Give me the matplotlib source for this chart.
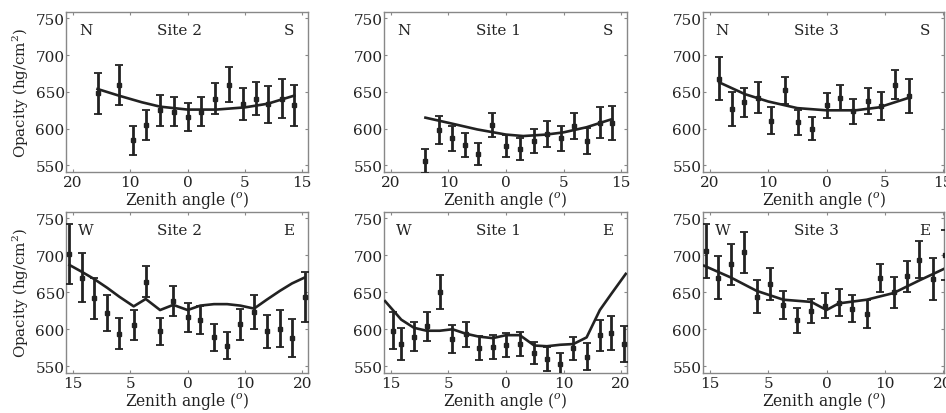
import numpy as np
import matplotlib
matplotlib.use('Agg')
import matplotlib.pyplot as plt

# ── Data (x in tick units: ticks at -2..2) ────────────────────────────────────
ns_ticks = ['20', '10', '0', '5', '15']
we_ticks = ['15', '5', '0', '10', '20']

# Site 2, N-S
s2ns_x = [-1.57, -1.19, -0.96, -0.73, -0.48, -0.24, 0.0, 0.23, 0.48, 0.72, 0.96, 1.19, 1.41, 1.65, 1.86]
s2ns_y = [648, 659, 584, 605, 625, 623, 616, 623, 641, 660, 634, 641, 633, 641, 632]
s2ns_e = [28, 27, 20, 20, 21, 20, 19, 20, 21, 24, 22, 23, 25, 26, 28]
s2ns_fx = [-1.57, -1.2, -0.8, -0.48, 0.0, 0.5, 1.0, 1.4, 1.65, 1.86]
s2ns_fy = [654, 645, 636, 630, 626, 626, 629, 634, 640, 645]

# Site 1, N-S
s1ns_x = [-1.40, -1.17, -0.94, -0.71, -0.48, -0.24, 0.0, 0.24, 0.48, 0.71, 0.95, 1.18, 1.41, 1.63, 1.84]
s1ns_y = [556, 598, 587, 578, 566, 605, 577, 572, 583, 593, 587, 604, 583, 608, 608]
s1ns_e = [16, 19, 17, 16, 15, 16, 15, 15, 16, 18, 17, 18, 18, 21, 23]
s1ns_fx = [-1.4, -1.0, -0.5, 0.0, 0.3, 0.7, 1.0, 1.4, 1.84]
s1ns_fy = [615, 608, 599, 592, 590, 592, 595, 602, 613]

# Site 3, N-S
s3ns_x = [-1.84, -1.63, -1.41, -1.18, -0.95, -0.72, -0.49, -0.25, 0.0, 0.23, 0.46, 0.71, 0.94, 1.18, 1.41]
s3ns_y = [668, 627, 636, 642, 611, 652, 609, 600, 632, 642, 624, 638, 631, 660, 644]
s3ns_e = [29, 23, 20, 21, 18, 19, 17, 16, 17, 17, 17, 18, 19, 20, 23]
s3ns_fx = [-1.84, -1.4, -1.0, -0.5, 0.0, 0.5, 0.9, 1.41]
s3ns_fy = [663, 647, 637, 628, 625, 625, 629, 642]

# Site 2, W-E
s2we_x = [-2.06, -1.85, -1.63, -1.40, -1.19, -0.94, -0.73, -0.48, -0.25, 0.0,
          0.22, 0.46, 0.69, 0.92, 1.16, 1.38, 1.61, 1.82, 2.04]
s2we_y = [702, 670, 642, 622, 594, 606, 664, 597, 638, 616, 612, 589, 578, 607, 624, 597, 601, 588, 644]
s2we_e = [41, 33, 28, 25, 21, 20, 21, 18, 20, 20, 19, 18, 18, 21, 23, 22, 25, 26, 34]
s2we_fx = [-2.06, -1.85, -1.63, -1.40, -1.19, -0.94, -0.73, -0.48, -0.25, 0.0,
           0.22, 0.46, 0.69, 0.92, 1.16, 1.38, 1.61, 1.82, 2.04]
s2we_fy = [687, 678, 668, 656, 644, 631, 641, 626, 633, 626, 632, 634, 634, 632, 628, 640, 652, 662, 670]

# Site 1, W-E
s1we_x = [-1.97, -1.82, -1.60, -1.38, -1.15, -0.93, -0.70, -0.47, -0.23, 0.0,
          0.24, 0.49, 0.71, 0.94, 1.17, 1.40, 1.63, 1.83, 2.05]
s1we_y = [598, 580, 590, 604, 651, 587, 593, 575, 576, 579, 580, 568, 560, 553, 574, 563, 592, 595, 580]
s1we_e = [25, 22, 20, 20, 23, 19, 17, 16, 16, 16, 16, 15, 16, 15, 16, 18, 21, 23, 24]
s1we_fx = [-2.1, -1.82, -1.60, -1.38, -1.15, -0.93, -0.70, -0.47, -0.23, 0.0,
           0.24, 0.49, 0.71, 0.94, 1.17, 1.40, 1.63, 1.83, 2.08]
s1we_fy = [638, 613, 602, 598, 598, 600, 594, 590, 588, 592, 592, 578, 577, 579, 580, 589, 626, 648, 675]

# Site 3, W-E
s3we_x = [-2.07, -1.86, -1.64, -1.41, -1.20, -0.97, -0.74, -0.51, -0.26, -0.02,
          0.21, 0.44, 0.69, 0.92, 1.15, 1.38, 1.59, 1.82, 2.03]
s3we_y = [706, 670, 688, 704, 644, 661, 633, 612, 625, 632, 636, 628, 621, 669, 650, 672, 694, 668, 700]
s3we_e = [36, 29, 28, 28, 22, 22, 19, 17, 16, 17, 18, 18, 19, 19, 21, 21, 25, 28, 34]
s3we_fx = [-2.1, -1.64, -1.20, -0.74, -0.26, 0.0, 0.21, 0.69, 1.15, 1.59, 2.05]
s3we_fy = [686, 670, 652, 640, 637, 626, 635, 640, 649, 666, 683]

panels = [
    # (rect, x, y, err, fit_x, fit_y, ticks, left, right, title, ylabel)
    ([0.0698, 0.582, 0.2558, 0.387], s2ns_x, s2ns_y, s2ns_e, s2ns_fx, s2ns_fy, ns_ticks, 'N', 'S', 'Site 2', True),
    ([0.4059, 0.582, 0.2568, 0.387], s1ns_x, s1ns_y, s1ns_e, s1ns_fx, s1ns_fy, ns_ticks, 'N', 'S', 'Site 1', False),
    ([0.7431, 0.582, 0.2550, 0.387], s3ns_x, s3ns_y, s3ns_e, s3ns_fx, s3ns_fy, ns_ticks, 'N', 'S', 'Site 3', False),
    ([0.0698, 0.097, 0.2558, 0.389], s2we_x, s2we_y, s2we_e, s2we_fx, s2we_fy, we_ticks, 'W', 'E', 'Site 2', True),
    ([0.4059, 0.097, 0.2568, 0.389], s1we_x, s1we_y, s1we_e, s1we_fx, s1we_fy, we_ticks, 'W', 'E', 'Site 1', False),
    ([0.7431, 0.097, 0.2550, 0.389], s3we_x, s3we_y, s3we_e, s3we_fx, s3we_fy, we_ticks, 'W', 'E', 'Site 3', False),
]

# ── Style ─────────────────────────────────────────────────────────────────────
plt.rcParams.update({
    'font.family': 'DejaVu Serif',
    'mathtext.fontset': 'dejavuserif',
    'font.size': 11,
    'axes.edgecolor': '#888888',
    'axes.linewidth': 1.0,
    'xtick.direction': 'in',
    'ytick.direction': 'in',
    'xtick.top': True,
    'ytick.right': True,
    'xtick.major.size': 2.5,
    'ytick.major.size': 2.5,
    'xtick.color': '#888888',
    'ytick.color': '#888888',
    'xtick.labelcolor': '#222222',
    'ytick.labelcolor': '#222222',
    'xtick.labelsize': 11,
    'ytick.labelsize': 11,
    'xtick.major.pad': 2,
    'ytick.major.pad': 1,
})

fig = plt.figure(figsize=(9.46, 4.14), dpi=100)

for i, (rect, x, y, e, fx, fy, ticks, lt, rt, title, ylab) in enumerate(panels):
    ax = fig.add_axes(rect)
    ax.errorbar(x, y, yerr=e, fmt='s', color='#222222', ms=2.5, elinewidth=2.0,
                capsize=2.8, capthick=1.3, zorder=3)
    ax.plot(fx, fy, color='#222222', lw=1.9, zorder=4)
    ax.set_xlim(-2.12, 2.1 if i % 3 != 2 else 2.02)
    ax.set_ylim(541, 759)
    ax.set_xticks([-2, -1, 0, 1, 2])
    ax.set_xticklabels(ticks)
    ax.set_yticks([550, 600, 650, 700, 750])
    ax.set_xlabel(r'Zenith angle ($^o$)', fontsize=11.2, labelpad=0, color='#222222')
    if ylab:
        ax.set_ylabel(r'Opacity (hg/cm$^2$)', fontsize=10.8, labelpad=3, color='#222222')
    ax.text(0.08, 0.93, lt, transform=ax.transAxes, ha='center', va='top', fontsize=11, color='#222222')
    ax.text(0.92, 0.93, rt, transform=ax.transAxes, ha='center', va='top', fontsize=11, color='#222222')
    ax.text(0.47, 0.93, title, transform=ax.transAxes, ha='center', va='top', fontsize=11, color='#222222')

plt.savefig('out.png', dpi=100)
plt.close()
